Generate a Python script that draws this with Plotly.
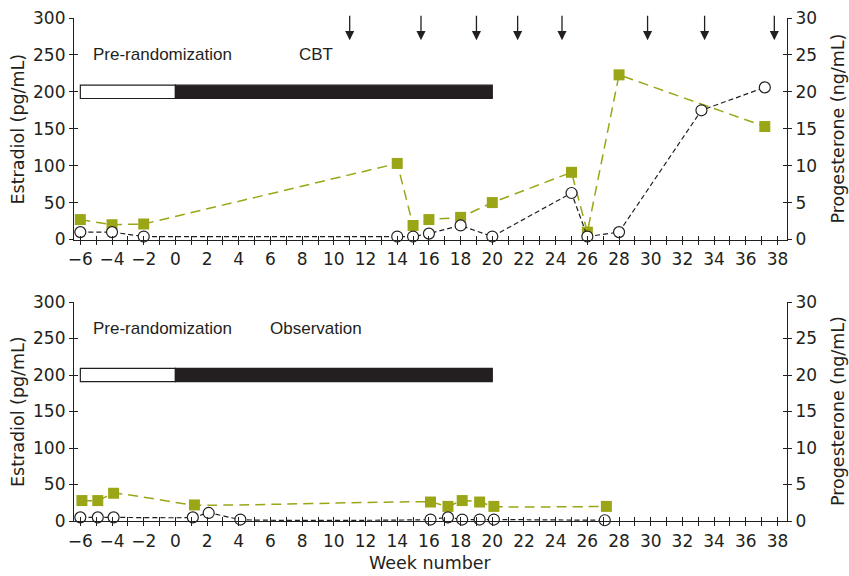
import plotly.graph_objects as go

# ---------------- data ----------------
# Top panel: CBT arm
cbt_e2_weeks = [-6, -4, -2, 14, 15, 16, 18, 20, 25, 26, 28, 37.2]
cbt_e2 = [27, 20, 21, 103, 19, 27, 30, 50, 91, 10, 223, 153]          # Estradiol (pg/mL)
cbt_p4_weeks = [-6, -4, -2, 14, 15, 16, 18, 20, 25, 26, 28, 33.2, 37.2]
cbt_p4 = [1.0, 1.0, 0.4, 0.4, 0.4, 0.8, 1.9, 0.4, 6.3, 0.4, 1.0, 17.5, 20.6]  # Progesterone (ng/mL)
arrow_weeks = [11, 15.5, 19, 21.6, 24.4, 29.8, 33.4, 37.8]

# Bottom panel: Observation arm
obs_e2_weeks = [-5.9, -4.9, -3.9, 1.2, 16.1, 17.2, 18.1, 19.2, 20.1, 27.2]
obs_e2 = [28, 28, 38, 22, 26, 20, 28, 26, 20, 20]
obs_p4_weeks = [-6, -4.9, -3.9, 1.1, 2.1, 4.1, 16.1, 17.2, 18.1, 19.2, 20.1, 27.1]
obs_p4 = [0.5, 0.5, 0.5, 0.5, 1.1, 0.2, 0.2, 0.5, 0.2, 0.2, 0.2, 0.1]

# phase bars
phase_start = [-6, 0]
phase_end = [0, 20]
phase_fill = ["white", "#231f20"]
phase_level = 200

top_labels = ["Pre-randomization", "CBT"]
bottom_labels = ["Pre-randomization", "Observation"]

week_ticks = list(range(-6, 39))
week_ticktext = [("\u2212" + str(-w) if w < 0 else str(w)) if w % 2 == 0 else "" for w in week_ticks]
e2_ticks = [0, 50, 100, 150, 200, 250, 300]
p4_ticks = [0, 5, 10, 15, 20, 25, 30]

X_RANGE = [-6.4, 38.6]
E2_RANGE = [0, 300]
P4_RANGE = [0, 30]

# ---------------- style ----------------
FONT = "DejaVu Sans"
INK = "#231f20"
GREEN = "#9ba617"
TICKFONT = dict(family=FONT, size=17, color=INK)

W, H = 849, 576
TOP_DOM = [1 - 239.5 / H, 1 - 18 / H]
BOT_DOM = [1 - 521 / H, 1 - 302 / H]

fig = go.Figure()


def add_panel(e2w, e2, p4w, p4, xa, ya_e2, ya_p4, shape, smooth):
    fig.add_trace(go.Scatter(
        x=e2w, y=e2, xaxis=xa, yaxis=ya_e2, mode="lines+markers",
        line=dict(color=GREEN, width=1.5, dash="10px,6px", shape=shape, smoothing=smooth),
        marker=dict(symbol="square", size=11, color=GREEN),
        cliponaxis=False, showlegend=False, hoverinfo="skip"))
    fig.add_trace(go.Scatter(
        x=p4w, y=p4, xaxis=xa, yaxis=ya_p4, mode="lines+markers",
        line=dict(color=INK, width=1.2, dash="5px,3px", shape=shape, smoothing=smooth),
        marker=dict(symbol="circle", size=11, color="white", line=dict(color=INK, width=1.2)),
        cliponaxis=False, showlegend=False, hoverinfo="skip"))


add_panel(cbt_e2_weeks, cbt_e2, cbt_p4_weeks, cbt_p4, "x", "y", "y2", "linear", 0)
add_panel(obs_e2_weeks, obs_e2, obs_p4_weeks, obs_p4, "x2", "y3", "y4", "spline", 0.4)

# dummy traces so the inside-tick overlay axes are rendered
for xa, ya in [("x3", "y"), ("x", "y5"), ("x", "y6"), ("x4", "y3"), ("x2", "y7"), ("x2", "y8")]:
    fig.add_trace(go.Scatter(x=[None], y=[None], xaxis=xa, yaxis=ya, mode="lines",
                             showlegend=False, hoverinfo="skip"))


def base_axis(**kw):
    d = dict(showline=True, linecolor=INK, linewidth=1.2, ticks="outside", ticklen=4,
             tickwidth=1.2, tickcolor=INK, showgrid=False, zeroline=False,
             tickfont=TICKFONT, automargin=False, fixedrange=True)
    d.update(kw)
    return d


def inside_axis(**kw):
    d = dict(showline=False, ticks="inside", ticklen=4, tickwidth=1.2, tickcolor=INK,
             showticklabels=False, showgrid=False, zeroline=False, automargin=False,
             fixedrange=True)
    d.update(kw)
    return d


xcommon = dict(range=X_RANGE, tickmode="array", tickvals=week_ticks, ticktext=week_ticktext)

fig.update_layout(
    width=W, height=H,
    margin=dict(l=74, r=62, t=0, b=0),
    paper_bgcolor="white", plot_bgcolor="rgba(0,0,0,0)",
    template="none", hovermode=False,
    font=dict(family=FONT, color=INK),
    xaxis=base_axis(domain=[0, 1], anchor="y", **xcommon),
    yaxis=base_axis(domain=TOP_DOM, anchor="x", range=E2_RANGE, tickmode="array", tickvals=e2_ticks),
    yaxis2=base_axis(overlaying="y", side="right", anchor="x", range=P4_RANGE,
                     tickmode="array", tickvals=p4_ticks),
    xaxis2=base_axis(domain=[0, 1], anchor="y3", **xcommon),
    yaxis3=base_axis(domain=BOT_DOM, anchor="x2", range=E2_RANGE, tickmode="array", tickvals=e2_ticks),
    yaxis4=base_axis(overlaying="y3", side="right", anchor="x2", range=P4_RANGE,
                     tickmode="array", tickvals=p4_ticks),
    xaxis3=inside_axis(overlaying="x", anchor="y", range=X_RANGE, tickmode="array", tickvals=week_ticks),
    yaxis5=inside_axis(overlaying="y", anchor="x", side="left", range=E2_RANGE,
                       tickmode="array", tickvals=e2_ticks),
    yaxis6=inside_axis(overlaying="y", anchor="x", side="right", range=P4_RANGE,
                       tickmode="array", tickvals=p4_ticks),
    xaxis4=inside_axis(overlaying="x2", anchor="y3", range=X_RANGE, tickmode="array", tickvals=week_ticks),
    yaxis7=inside_axis(overlaying="y3", anchor="x2", side="left", range=E2_RANGE,
                       tickmode="array", tickvals=e2_ticks),
    yaxis8=inside_axis(overlaying="y3", anchor="x2", side="right", range=P4_RANGE,
                       tickmode="array", tickvals=p4_ticks),
)

# phase bars
shapes = []
for yref in ["y", "y3"]:
    xref = "x" if yref == "y" else "x2"
    for s, e, f in zip(phase_start, phase_end, phase_fill):
        shapes.append(dict(type="rect", xref=xref, yref=yref, x0=s, x1=e,
                           y0=phase_level - 9, y1=phase_level + 9,
                           fillcolor=f, line=dict(color=INK, width=1.2), layer="above"))
fig.update_layout(shapes=shapes)

ann = []
LABFONT = dict(family="Liberation Sans", size=17, color=INK)
# phase labels
ann.append(dict(x=-5.3, y=250, xref="x", yref="y", text=top_labels[0], showarrow=False,
                xanchor="left", yanchor="middle", font=LABFONT))
ann.append(dict(x=8.9, y=250, xref="x", yref="y", text=top_labels[1], showarrow=False,
                xanchor="center", yanchor="middle", font=LABFONT))
ann.append(dict(x=-5.3, y=264, xref="x2", yref="y3", text=bottom_labels[0], showarrow=False,
                xanchor="left", yanchor="middle", font=LABFONT))
ann.append(dict(x=8.9, y=264, xref="x2", yref="y3", text=bottom_labels[1], showarrow=False,
                xanchor="center", yanchor="middle", font=LABFONT))
# arrows
for w in arrow_weeks:
    ann.append(dict(x=w, y=270, xref="x", yref="y", text="", showarrow=True,
                    ax=0, ay=-26, arrowhead=2, arrowsize=1.4, arrowwidth=1.3, arrowcolor=INK))
# axis titles
TFONT = dict(family=FONT, size=17.5, color=INK)
for yc in [1 - 129 / H, 1 - 411.5 / H]:
    ann.append(dict(x=(17.5 - 74) / 713, y=yc, xref="paper", yref="paper", text="Estradiol (pg/mL)",
                    textangle=-90, showarrow=False, xanchor="center", yanchor="middle", font=TFONT))
    ann.append(dict(x=(837.5 - 74) / 713, y=yc, xref="paper", yref="paper", text="Progesterone (ng/mL)",
                    textangle=-90, showarrow=False, xanchor="center", yanchor="middle", font=TFONT))
ann.append(dict(x=(430 - 74) / 713, y=1 - 563 / H, xref="paper", yref="paper", text="Week number",
                showarrow=False, xanchor="center", yanchor="middle", font=TFONT))
fig.update_layout(annotations=ann)

fig.write_html("out.html", config={"displayModeBar": False},
               post_script="document.body.style.margin='0';document.body.style.overflow='hidden';")
